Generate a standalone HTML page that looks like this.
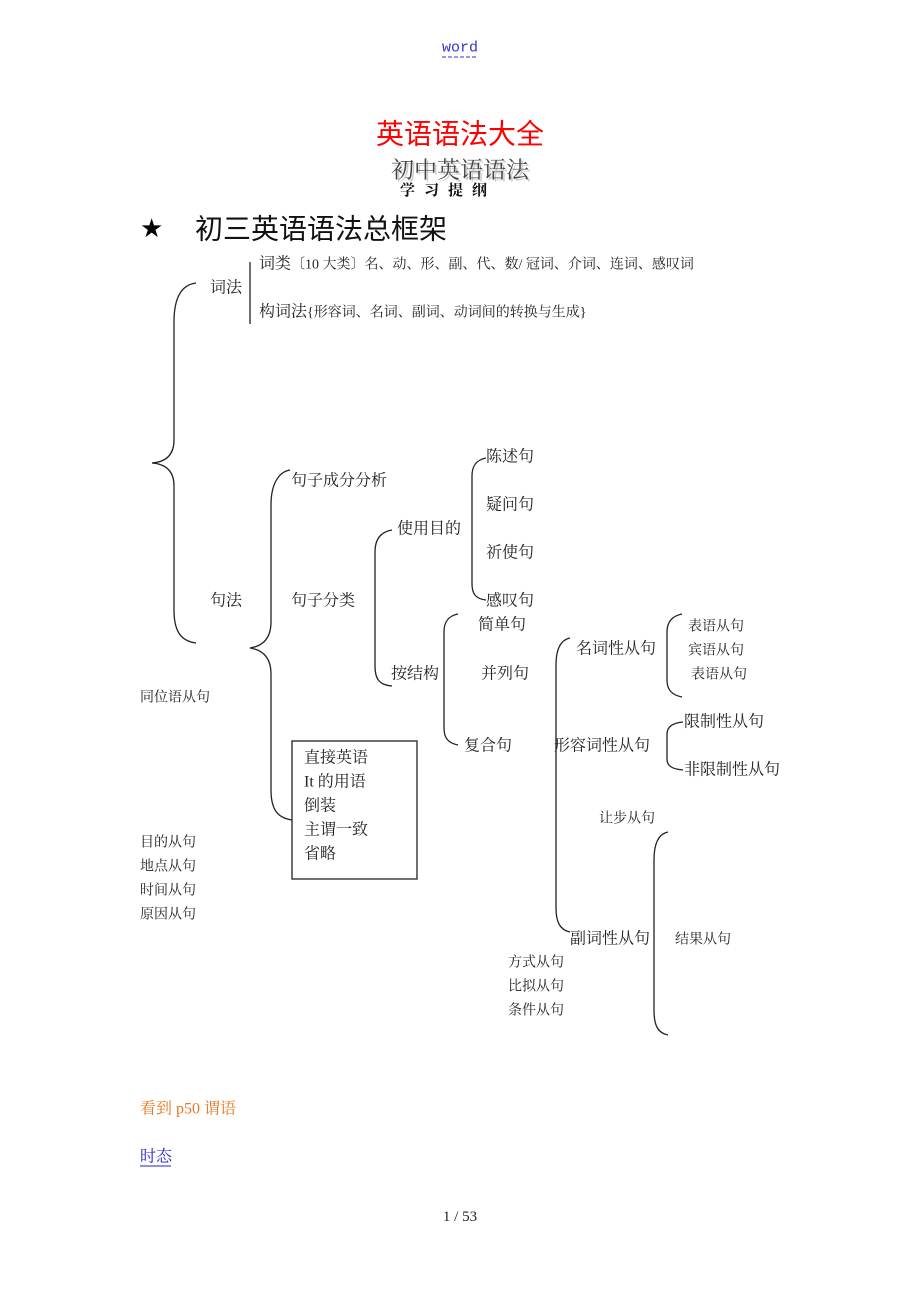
<!DOCTYPE html>
<html><head><meta charset="utf-8"><style>
body{margin:0;background:#fff}
svg{display:block}
text{font-family:"Liberation Serif","Noto Serif CJK SC",serif;dominant-baseline:central;fill:#222}
.s{font-size:14px}
.m{font-size:16px}
</style></head><body>
<svg width="920" height="1302" viewBox="0 0 920 1302" xmlns="http://www.w3.org/2000/svg">
<text x="460" y="48" text-anchor="middle" style="fill:#3333cc;font-family:'Liberation Mono',monospace;font-size:15px">word</text>
<line x1="442" y1="57" x2="478" y2="57" stroke="#3333cc" stroke-dasharray="4,2"/>
<text x="460" y="134" text-anchor="middle" style="fill:#f00;font-size:28px;font-family:'Liberation Sans','Noto Sans CJK SC',sans-serif">英语语法大全</text>
<text x="462" y="170" text-anchor="middle" style="fill:#ccc;font-size:23px;font-family:'Noto Serif CJK SC',serif">初中英语语法</text>
<text x="460" y="168" text-anchor="middle" style="fill:#444;font-size:23px;font-family:'Noto Serif CJK SC',serif">初中英语语法</text>
<text x="448" y="191" text-anchor="middle" style="font-size:15px;font-weight:bold;letter-spacing:9px;fill:#111">学习提纲</text>
<text x="140" y="229" style="font-size:26px;fill:#000;font-family:'DejaVu Sans',sans-serif">★</text>
<text x="195" y="229" style="font-size:28px;fill:#111;font-family:'Liberation Sans','Noto Sans CJK SC',sans-serif">初三英语语法总框架</text>

<g fill="none" stroke="#222" stroke-width="1.3">
<line x1="250" y1="262" x2="250" y2="324"/>
<path d="M196,283 C180,285 174,300 174,322 L174,440 C174,455 166,462 152,463 C166,464 174,471 174,486 L174,610 C174,630 180,641 196,643"/>
<path d="M290,470 C278,472 271,485 271,505 L271,622 C271,638 263,646 250,648 C263,650 271,658 271,674 L271,790 C271,810 278,818 292,820"/>
<path d="M392,530 C380,532 375,540 375,552 L375,666 C375,680 380,685 392,686"/>
<path d="M486,458 C476,460 472,466 472,476 L472,584 C472,594 476,599 486,600"/>
<path d="M458,614 C448,616 444,622 444,632 L444,728 C444,738 448,743 458,745"/>
<path d="M570,638 C560,640 556,650 556,665 L556,908 C556,922 560,930 570,932"/>
<path d="M682,614 C672,616 667,622 667,632 L667,680 C667,690 672,695 682,697"/>
<path d="M683,722 C672,723 667,727 667,734 L667,759 C667,766 672,769 683,770"/>
<path d="M668,832 C658,834 654,844 654,860 L654,1010 C654,1026 658,1033 668,1035"/>
<rect x="292" y="741" width="125" height="138"/>
</g>

<g transform="translate(0,1)">
<text x="259" y="263" class="m">词类</text>
<text x="291" y="264" class="s">〔10 大类〕名、动、形、副、代、数/ 冠词、介词、连词、感叹词</text>
<text x="210" y="287" class="m">词法</text>
<text x="259" y="311" class="m">构词法</text>
<text x="307" y="312" class="s">{形容词、名词、副词、动词间的转换与生成}</text>

<text x="486" y="456" class="m">陈述句</text>
<text x="291" y="480" class="m">句子成分分析</text>
<text x="486" y="504" class="m">疑问句</text>
<text x="397" y="528" class="m">使用目的</text>
<text x="486" y="552" class="m">祈使句</text>
<text x="210" y="600" class="m">句法</text>
<text x="291" y="600" class="m">句子分类</text>
<text x="486" y="600" class="m">感叹句</text>
<text x="478" y="624" class="m">简单句</text>
<text x="688" y="626" class="s">表语从句</text>
<text x="576" y="648" class="m">名词性从句</text>
<text x="688" y="650" class="s">宾语从句</text>
<text x="391" y="673" class="m">按结构</text>
<text x="481" y="673" class="m">并列句</text>
<text x="691" y="674" class="s">表语从句</text>
<text x="140" y="697" class="s">同位语从句</text>
<text x="684" y="721" class="m">限制性从句</text>
<text x="464" y="745" class="m">复合句</text>
<text x="554" y="745" class="m">形容词性从句</text>
<text x="684" y="769" class="m">非限制性从句</text>

<text x="304" y="757" class="m">直接英语</text>
<text x="304" y="781" class="m">It  的用语</text>
<text x="304" y="805" class="m">倒装</text>
<text x="304" y="829" class="m">主谓一致</text>
<text x="304" y="853" class="m">省略</text>

<text x="599" y="818" class="s">让步从句</text>
<text x="140" y="842" class="s">目的从句</text>
<text x="140" y="866" class="s">地点从句</text>
<text x="140" y="890" class="s">时间从句</text>
<text x="140" y="914" class="s">原因从句</text>
<text x="570" y="938" class="m">副词性从句</text>
<text x="675" y="939" class="s">结果从句</text>
<text x="508" y="962" class="s">方式从句</text>
<text x="508" y="986" class="s">比拟从句</text>
<text x="508" y="1010" class="s">条件从句</text>

<text x="140" y="1108" style="fill:#e87722;font-size:16px">看到 p50 谓语</text>
<text x="140" y="1156" style="fill:#2222cc;font-size:16px">时态</text>
<text x="460" y="1216" text-anchor="middle" style="font-size:15px">1  / 53</text>
</g>
<line x1="140" y1="1166" x2="171" y2="1166" stroke="#2222cc"/>
</svg>
</body></html>
